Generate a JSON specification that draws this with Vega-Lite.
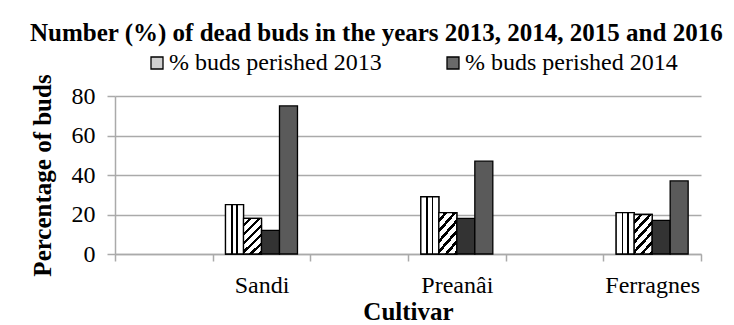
{
  "$schema": "https://vega.github.io/schema/vega-lite/v6.json",
  "width": 586,
  "height": 158,
  "autosize": {"type": "none"},
  "padding": {"left": 115, "top": 96, "right": 33, "bottom": 71},
  "background": "white",
  "title": {
    "text": "Number (%) of dead buds in the years 2013, 2014, 2015 and 2016",
    "font": "Liberation Serif",
    "fontSize": 25,
    "fontWeight": "bold",
    "color": "black",
    "anchor": "start",
    "frame": "bounds",
    "offset": 5
  },
  "data": {
    "values": [
      {"cultivar": "Sandi", "series": "% buds perished 2013", "pct": 25},
      {"cultivar": "Sandi", "series": "% buds perished 2014", "pct": 18},
      {"cultivar": "Sandi", "series": "% buds perished 2015", "pct": 12},
      {"cultivar": "Sandi", "series": "% buds perished 2016", "pct": 75},
      {"cultivar": "Preanâi", "series": "% buds perished 2013", "pct": 29},
      {"cultivar": "Preanâi", "series": "% buds perished 2014", "pct": 21},
      {"cultivar": "Preanâi", "series": "% buds perished 2015", "pct": 18},
      {"cultivar": "Preanâi", "series": "% buds perished 2016", "pct": 47},
      {"cultivar": "Ferragnes", "series": "% buds perished 2013", "pct": 21},
      {"cultivar": "Ferragnes", "series": "% buds perished 2014", "pct": 20},
      {"cultivar": "Ferragnes", "series": "% buds perished 2015", "pct": 17},
      {"cultivar": "Ferragnes", "series": "% buds perished 2016", "pct": 37}
    ]
  },
  "encoding": {
    "x": {
      "field": "cultivar",
      "type": "nominal",
      "scale": {"domain": [" ", "Sandi", "  ", "Preanâi", "   ", "Ferragnes"], "paddingInner": 0, "paddingOuter": 0},
      "axis": {
        "title": "Cultivar",
        "titleFont": "Liberation Serif",
        "titleFontSize": 25,
        "titleFontWeight": "bold",
        "titleColor": "black",
        "titlePadding": 2,
        "labelAngle": 0,
        "labelFont": "Liberation Serif",
        "labelFontSize": 24,
        "labelColor": "black",
        "labelPadding": 12,
        "tickBand": "extent",
        "tickSize": 7,
        "tickColor": "#aaaaaa",
        "tickWidth": 1.5,
        "domainColor": "#aaaaaa",
        "domainWidth": 1.5,
        "grid": false
      }
    },
    "xOffset": {
      "field": "series",
      "type": "nominal",
      "scale": {"domain": ["% buds perished 2013", "% buds perished 2014", "% buds perished 2015", "% buds perished 2016"], "paddingInner": 0, "paddingOuter": 0.714}
    },
    "y": {
      "field": "pct",
      "type": "quantitative",
      "scale": {"domain": [0, 80]},
      "axis": {
        "title": "Percentage of buds",
        "titleFont": "Liberation Serif",
        "titleFontSize": 25,
        "titleFontWeight": "bold",
        "titleColor": "black",
        "titlePadding": 16,
        "values": [0, 20, 40, 60, 80],
        "labelFont": "Liberation Serif",
        "labelFontSize": 24,
        "labelColor": "black",
        "labelPadding": 12,
        "tickSize": 8,
        "tickColor": "#aaaaaa",
        "tickWidth": 1.5,
        "grid": true,
        "gridColor": "#aaaaaa",
        "gridWidth": 1.5,
        "domainColor": "#aaaaaa",
        "domainWidth": 1.5
      }
    }
  },
  "layer": [
    {
      "transform": [{"filter": "datum.series === '% buds perished 2013' || datum.series === '% buds perished 2014'"}],
      "mark": {"type": "bar", "stroke": "black", "strokeWidth": 1.3},
      "encoding": {
        "fill": {
          "field": "series",
          "type": "nominal",
          "scale": {"range": ["#d0d0d0", "#6a6a6a"]},
          "legend": {
            "orient": "none",
            "legendX": 30,
            "legendY": -45,
            "direction": "horizontal",
            "title": null,
            "labelFont": "Liberation Serif",
            "labelFontSize": 24,
            "labelColor": "black",
            "labelOffset": 0,
            "labelLimit": 400,
            "symbolType": "square",
            "symbolSize": 144,
            "symbolStrokeColor": "black",
            "symbolStrokeWidth": 1.3,
            "columnPadding": 59
          }
        }
      }
    },
    {
      "transform": [{"filter": "datum.series === '% buds perished 2013'"}],
      "mark": {
        "type": "bar",
        "stroke": "black",
        "strokeWidth": 1.3,
        "fill": {"gradient": "linear", "x1": 0, "y1": 0, "x2": 1, "y2": 0, "stops": [
          {"offset": 0, "color": "white"}, {"offset": 0.3, "color": "white"},
          {"offset": 0.3, "color": "black"}, {"offset": 0.4, "color": "black"},
          {"offset": 0.4, "color": "white"}, {"offset": 0.6, "color": "white"},
          {"offset": 0.6, "color": "black"}, {"offset": 0.7, "color": "black"},
          {"offset": 0.7, "color": "white"}, {"offset": 1, "color": "white"}
        ]}
      }
    },
    {
      "transform": [{"filter": "datum.series === '% buds perished 2014'"}],
      "mark": {
        "type": "bar",
        "stroke": "black",
        "strokeWidth": 1.3,
        "fill": {"gradient": "linear", "x1": 0, "y1": 0, "x2": 0.6, "y2": 1.2, "stops": [
          {"offset": 0, "color": "white"}, {"offset": 0.1, "color": "white"},
          {"offset": 0.1, "color": "black"}, {"offset": 0.167, "color": "black"},
          {"offset": 0.167, "color": "white"}, {"offset": 0.267, "color": "white"},
          {"offset": 0.267, "color": "black"}, {"offset": 0.333, "color": "black"},
          {"offset": 0.333, "color": "white"}, {"offset": 0.433, "color": "white"},
          {"offset": 0.433, "color": "black"}, {"offset": 0.5, "color": "black"},
          {"offset": 0.5, "color": "white"}, {"offset": 0.6, "color": "white"},
          {"offset": 0.6, "color": "black"}, {"offset": 0.667, "color": "black"},
          {"offset": 0.667, "color": "white"}, {"offset": 0.767, "color": "white"},
          {"offset": 0.767, "color": "black"}, {"offset": 0.833, "color": "black"},
          {"offset": 0.833, "color": "white"}, {"offset": 0.933, "color": "white"},
          {"offset": 0.933, "color": "black"}, {"offset": 1, "color": "black"}
        ]}
      }
    },
    {
      "transform": [{"filter": "datum.series === '% buds perished 2015'"}],
      "mark": {"type": "bar", "stroke": "black", "strokeWidth": 1.3, "fill": "#333333"}
    },
    {
      "transform": [{"filter": "datum.series === '% buds perished 2016'"}],
      "mark": {"type": "bar", "stroke": "black", "strokeWidth": 1.3, "fill": "#5a5a5a"}
    }
  ],
  "config": {
    "font": "Liberation Serif",
    "view": {"stroke": null},
    "axis": {"labelFont": "Liberation Serif", "titleFont": "Liberation Serif"},
    "legend": {"labelFont": "Liberation Serif"}
  }
}
